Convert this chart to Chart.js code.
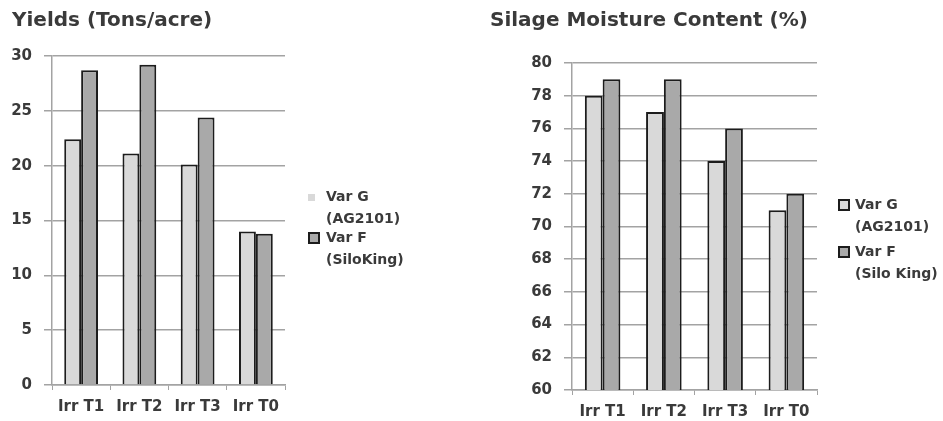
<!DOCTYPE html>
<html>
<head>
<meta charset="utf-8">
<script src="https://cdn.jsdelivr.net/npm/chart.js@4.4.1/dist/chart.umd.min.js"></script>
<style>
  body { margin: 0; background: #fff; }
  #wrap { position: relative; width: 943px; height: 421px; overflow: hidden; }
  .box { position: absolute; top: 0; height: 421px; }
  .legend { position: absolute; color: #3a3a3a; font-family: "DejaVu Sans", sans-serif; font-size: 14px; font-weight: bold; line-height: 21.5px; }
  .legend .item { position: relative; }
  .legend .sw { position: absolute; box-sizing: border-box; }
</style>
</head>
<body>
<div id="wrap">
  <div class="box" style="left:0;width:470px"><canvas id="yieldChart"></canvas></div>
  <div class="box" style="left:470px;width:473px"><canvas id="moistChart"></canvas></div>
  <div class="legend" id="yieldLegend" style="left:308px;top:186px"></div>
  <div class="legend" id="moistLegend" style="left:838px;top:194px"></div>
</div>
<script>
const categories = ["Irr T1", "Irr T2", "Irr T3", "Irr T0"];
const yieldVarG = [22.4, 21.1, 20.1, 14.0];
const yieldVarF = [28.7, 29.2, 24.4, 13.8];
const moistVarG = [78, 77, 74, 71];
const moistVarF = [79, 79, 76, 72];
const yieldSeriesNames = [["Var G", "(AG2101)"], ["Var F", "(SiloKing)"]];
const moistSeriesNames = [["Var G", "(AG2101)"], ["Var F", "(Silo King)"]];

const colorG = "#d9d9d9";
const colorF = "#a9a9a9";
const borderDark = "#1c1c1c";
const gridColor = "#a3a3a3";
const textColor = "#3a3a3a";
const fontFamily = "DejaVu Sans";

function makeDatasets(names, valsG, valsF) {
  return [
    { label: names[0].join(" "), data: valsG, backgroundColor: colorG,
      borderColor: borderDark, borderWidth: 2, borderSkipped: "bottom" },
    { label: names[1].join(" "), data: valsF, backgroundColor: colorF,
      borderColor: borderDark, borderWidth: 2, borderSkipped: "bottom" },
  ];
}

function makeChart(id, opts) {
  const ctx = document.getElementById(id).getContext("2d");
  return new Chart(ctx, {
    type: "bar",
    data: {
      labels: categories,
      datasets: makeDatasets(opts.names, opts.valsG, opts.valsF),
    },
    options: {
      responsive: true,
      maintainAspectRatio: false,
      animation: false,
      datasets: { bar: { categoryPercentage: 0.58, barPercentage: 1.0 } },
      layout: { padding: opts.padding },
      plugins: {
        legend: { display: false },
        tooltip: { enabled: false },
        title: {
          display: true,
          text: opts.title,
          align: "start",
          color: textColor,
          font: { family: fontFamily, size: 20, weight: "bold" },
          padding: opts.titlePadding,
        },
      },
      scales: {
        x: {
          afterFit: (scale) => { scale.height = opts.xHeight; },
          grid: { offset: true, drawOnChartArea: false, drawTicks: true, tickLength: 5, color: gridColor },
          border: { color: gridColor, width: 1.5 },
          ticks: { color: textColor, padding: opts.xPad, font: { family: fontFamily, size: 15, weight: "bold" } },
        },
        y: {
          min: opts.min,
          max: opts.max,
          afterFit: (scale) => { scale.width = opts.axisWidth; },
          grid: { color: gridColor, lineWidth: 1.5, tickLength: 8 },
          border: { color: gridColor, width: 1.5 },
          ticks: { stepSize: opts.step, color: textColor, padding: 12, font: { family: fontFamily, size: 15, weight: "bold" } },
        },
      },
    },
  });
}

function buildLegend(elId, names, sw, gap) {
  const el = document.getElementById(elId);
  const fills = [colorG, colorF];
  names.forEach((lines, i) => {
    const item = document.createElement("div");
    item.className = "item";
    item.style.paddingLeft = sw.textLeft + "px";
    if (i > 0) item.style.marginTop = gap + "px";
    const box = document.createElement("span");
    box.className = "sw";
    const s = sw.size[i];
    box.style.width = s + "px";
    box.style.height = s + "px";
    box.style.left = "0px";
    box.style.top = (11 - s / 2) + "px";
    box.style.background = fills[i];
    if (sw.bordered[i]) box.style.border = "2px solid " + borderDark;
    item.appendChild(box);
    lines.forEach((t) => {
      const line = document.createElement("div");
      line.textContent = t;
      item.appendChild(line);
    });
    el.appendChild(item);
  });
}

makeChart("yieldChart", {
  names: yieldSeriesNames, valsG: yieldVarG, valsF: yieldVarF,
  title: "Yields (Tons/acre)",
  titlePadding: { top: 9, bottom: 23 },
  padding: { left: 12, right: 185, top: 0, bottom: 0 },
  axisWidth: 40, xHeight: 36, xPad: 8, min: 0, max: 30, step: 5,
});

makeChart("moistChart", {
  names: moistSeriesNames, valsG: moistVarG, valsF: moistVarF,
  title: "Silage Moisture Content (%)",
  titlePadding: { top: 9, bottom: 30 },
  padding: { left: 20, right: 126, top: 0, bottom: 0 },
  axisWidth: 82, xHeight: 31, xPad: 8, min: 60, max: 80, step: 2,
});

buildLegend("yieldLegend", yieldSeriesNames, { textLeft: 18, size: [7, 12], bordered: [false, true] }, -2);
buildLegend("moistLegend", moistSeriesNames, { textLeft: 17, size: [12, 12], bordered: [true, true] }, 4);
</script>
</body>
</html>
